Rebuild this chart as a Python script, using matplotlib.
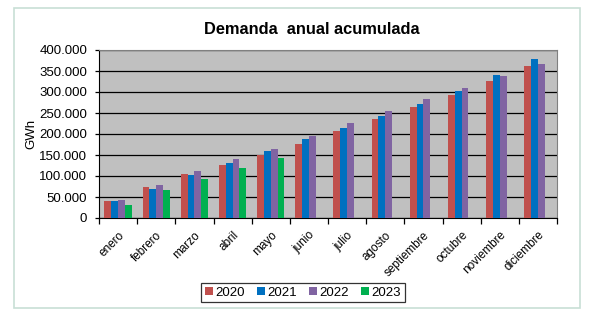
import matplotlib.pyplot as plt
import numpy as np
from matplotlib.patches import Rectangle

plt.rcParams['font.family'] = ['Liberation Sans', 'DejaVu Sans']

months = ['enero', 'febrero', 'marzo', 'abril', 'mayo', 'junio', 'julio',
          'agosto', 'septiembre', 'octubre', 'noviembre', 'diciembre']
years = ['2020', '2021', '2022', '2023']
d2020 = [41000, 74000, 105000, 127000, 149000, 176000, 207000, 236000, 265000, 293000, 326000, 361000]
d2021 = [40000, 70000, 103000, 132000, 160000, 187000, 215000, 242000, 272000, 302000, 341000, 379000]
d2022 = [42000, 79000, 113000, 140000, 165000, 195000, 226000, 254000, 283000, 310000, 338000, 366000]
d2023 = [31000, 66000, 94000, 118000, 143000]
colors = ['#C0504D', '#0070C0', '#8064A2', '#00B050']

fig = plt.figure(figsize=(5.92, 3.21), dpi=100)
# light frame around the whole chart
fig.patches.append(Rectangle((14 / 592, 1 - 308 / 321), 566 / 592, 300 / 321,
                             transform=fig.transFigure, fill=False,
                             edgecolor='#C8DFD6', lw=1.2))

ax = fig.add_axes([99 / 592, 1 - 218 / 321, 458 / 592, 168 / 321])
ax.set_facecolor('#C0C0C0')

x = np.arange(len(months))
w = 0.18
for i, (yr, vals) in enumerate(zip(years, [d2020, d2021, d2022, d2023])):
    ax.bar(x[:len(vals)] + (i - 1.5) * w, vals, w, color=colors[i], label=yr, zorder=3)

ax.set_xlim(-0.5, len(months) - 0.5)
ax.set_ylim(0, 400000)
ax.set_yticks(np.arange(0, 400001, 50000))
ax.set_yticklabels(['0'] + ['{:,}'.format(v).replace(',', '.') for v in range(50000, 400001, 50000)],
                   fontsize=9.5)
ax.yaxis.grid(True, color='black', lw=0.9, zorder=1)
ax.tick_params(axis='y', length=3, width=0.9, pad=5.5)

ax.set_xticks(x)
ax.set_xticklabels(months, rotation=45, ha='right', rotation_mode='anchor', fontsize=8.5)
ax.set_xticks(np.arange(-0.5, len(months)), minor=True)
ax.tick_params(axis='x', which='major', length=0, pad=8)
ax.tick_params(axis='x', which='minor', length=4, width=0.9)

for s in ['top', 'right']:
    ax.spines[s].set_color('#808080')
for s in ['left', 'bottom']:
    ax.spines[s].set_color('black')

ax.set_ylabel('GWh', fontsize=9.5, labelpad=1.5)
fig.text(312 / 592, 1 - 29 / 321, 'Demanda  anual acumulada', ha='center', va='center',
         fontsize=11.8, fontweight='bold')

leg = fig.legend(loc='center', bbox_to_anchor=(303 / 592, 1 - 292.5 / 321), ncol=4,
                 fontsize=9.5, handlelength=0.6, handleheight=0.6, handletextpad=0.2,
                 columnspacing=0.9, fancybox=False, edgecolor='black',
                 borderpad=0.3, borderaxespad=0)
leg.get_frame().set_linewidth(0.9)

fig.savefig('out.png', dpi=100)
